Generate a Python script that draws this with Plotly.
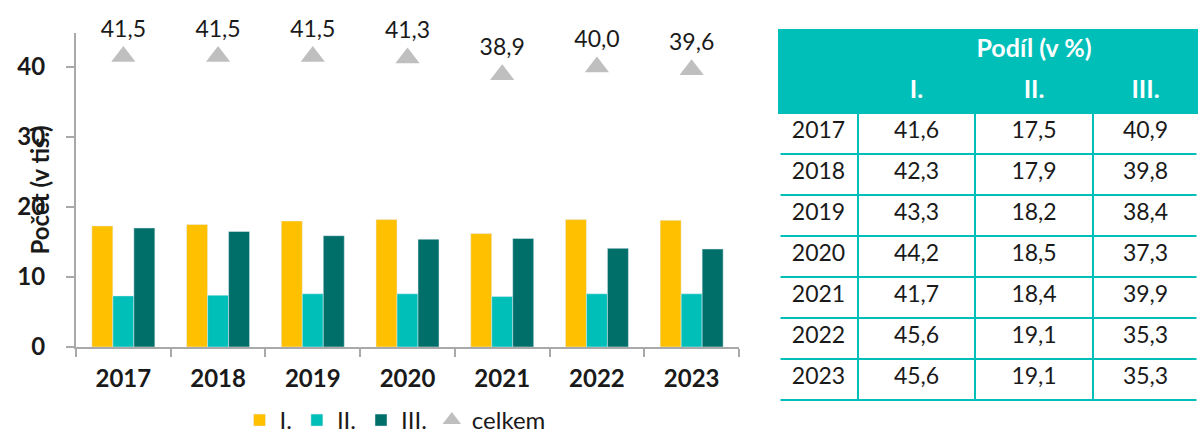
import plotly.graph_objects as go

years = ['2017', '2018', '2019', '2020', '2021', '2022', '2023']

# counts in thousands
count_I = [17.3, 17.5, 18.0, 18.2, 16.2, 18.2, 18.1]
count_II = [7.3, 7.4, 7.6, 7.6, 7.2, 7.6, 7.6]
count_III = [17.0, 16.5, 15.9, 15.4, 15.5, 14.1, 14.0]
total = [41.5, 41.5, 41.5, 41.3, 38.9, 40.0, 39.6]

# shares in % (table)
share_I = [41.6, 42.3, 43.3, 44.2, 41.7, 45.6, 45.6]
share_II = [17.5, 17.9, 18.2, 18.5, 18.4, 19.1, 19.1]
share_III = [40.9, 39.8, 38.4, 37.3, 39.9, 35.3, 35.3]

W, H = 1198, 443
FONT = 'Lato'
YELLOW = '#FFC000'
TEAL = '#00BFB9'
DARK = '#006F6A'
GREY = '#BFBFBF'
AXIS = '#A9A9A9'
INK = '#1a1a1a'


def cz(v):
    return f'{v:.1f}'.replace('.', ',')


fig = go.Figure()

for name, vals, col in [('I.', count_I, YELLOW), ('II.', count_II, TEAL), ('III.', count_III, DARK)]:
    fig.add_trace(go.Bar(
        x=years, y=vals, name=name,
        marker=dict(color=col),
        hoverinfo='skip'
    ))

fig.add_trace(go.Scatter(
    x=years, y=total, name='celkem',
    mode='markers+text',
    marker=dict(symbol='triangle-up', size=21, color=GREY),
    text=[cz(v) for v in total],
    textposition='top center',
    textfont=dict(family=FONT, size=23, color=INK),
    cliponaxis=False,
    hoverinfo='skip'
))

# table with shares
fig.add_trace(go.Table(
    domain=dict(x=[779 / W, 1.0], y=[(H - 410) / H, (H - 30) / H]),
    columnwidth=[79, 117, 118, 105],
    header=dict(
        values=[['', ''], ['', 'I.'], ['Podíl\u00a0(v\u00a0%)', 'II.'], ['', 'III.']],
        fill_color=TEAL,
        line=dict(color=TEAL, width=2),
        align='center',
        height=41.5,
        font=dict(family=FONT, size=25, color='white', weight='bold'),
    ),
    cells=dict(
        values=[years, [cz(v) for v in share_I], [cz(v) for v in share_II], [cz(v) for v in share_III]],
        fill_color='white',
        line=dict(color=TEAL, width=2),
        align='center',
        height=41,
        font=dict(family=FONT, size=23, color=INK),
    ),
))

# the table in the original has no outer vertical borders
body_top = (H - 114) / H
body_bot = (H - 404) / H
shapes = [
    dict(type='line', xref='paper', yref='paper', x0=xx, x1=xx, y0=body_bot, y1=body_top,
         line=dict(color='white', width=3), layer='above')
    for xx in (779 / W, 1.0)
]

fig.update_layout(
    width=W, height=H,
    margin=dict(l=0, r=0, t=0, b=0),
    paper_bgcolor='white',
    plot_bgcolor='white',
    barmode='group',
    bargap=0.335,
    bargroupgap=0,
    showlegend=True,
    legend=dict(
        orientation='h', x=395 / W, xanchor='center',
        y=0, yanchor='bottom',
        font=dict(family=FONT, size=24, color=INK),
        bgcolor='rgba(0,0,0,0)',
    ),
    xaxis=dict(
        domain=[76 / W, 739 / W],
        automargin=False,
        showline=True, linecolor=AXIS, linewidth=2,
        ticks='outside', tickson='boundaries', ticklen=8, tickcolor=AXIS, tickwidth=2,
        tickfont=dict(family=FONT, size=24, color=INK, weight='bold'),
        ticklabelstandoff=9,
        showgrid=False,
    ),
    yaxis=dict(
        domain=[(H - 347) / H, (H - 33) / H],
        range=[0, 44.86],
        automargin=False,
        dtick=10,
        showline=True, linecolor=AXIS, linewidth=2,
        ticks='outside', ticklen=8, tickcolor=AXIS, tickwidth=2,
        tickfont=dict(family=FONT, size=24, color=INK, weight='bold'),
        ticklabelstandoff=16,
        showgrid=False, zeroline=False,
    ),
    shapes=shapes,
    annotations=[dict(
        text='Počet (v tis.)', textangle=-90,
        xref='paper', yref='paper', x=23 / W, y=(H - 190) / H,
        showarrow=False,
        font=dict(family=FONT, size=24, color=INK, weight='bold'),
    )],
)

# drop the default 8px body margin so the figure sits at the window origin
fig.write_html('out.html', config={'displayModeBar': False},
               post_script="document.body.style.margin='0';")
